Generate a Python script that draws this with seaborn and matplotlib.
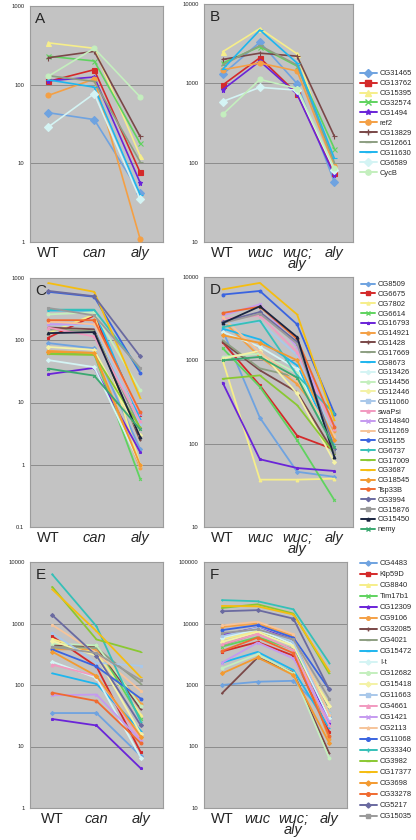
import numpy as np
import matplotlib
matplotlib.use("Agg")
import matplotlib.pyplot as plt
from matplotlib.lines import Line2D
from matplotlib.ticker import FixedLocator, NullLocator
import seaborn as sns

# ------------------------------------------------------------
# data (log scale)
# ------------------------------------------------------------
cats_3 = ["WT", "can", "aly"]
cats_4 = ["WT", "wuc", "wuc;\naly", "aly"]

genes_ab = ["CG31465", "CG13762", "CG15395", "CG32574", "CG1494", "ref2",
            "CG13829", "CG12661", "CG11630", "CG6589", "CycB"]
# panel A: WT, can, aly
vals_a = [[44, 36, 4.2], [110, 155, 7.7], [340, 290, 12.5], [230, 200, 18],
          [112, 125, 5.7], [73, 118, 1.1], [220, 265, 22], [130, 110, 10.5],
          [115, 93, 4.0], [29, 77, 3.5], [128, 290, 70]]
# panel B: WT, wuc, wuc;aly, aly
vals_b = [[1300, 3300, 990, 57], [950, 2100, 740, 74], [2500, 4900, 2350, 93],
          [1800, 2900, 1650, 150], [830, 1900, 730, 69], [1480, 1800, 1430, 90],
          [2000, 2400, 2200, 215], [1700, 3000, 1700, 100], [1500, 4700, 1800, 113],
          [590, 890, 820, 80], [405, 1120, 860, 85]]

genes_cd = ["CG8509", "CG6675", "CG7802", "CG6614", "CG16793", "CG14921",
            "CG1428", "CG17669", "CG8673", "CG13426", "CG14456", "CG12446",
            "CG11060", "swaPsi", "CG14840", "CG11269", "CG5155", "CG6737",
            "CG17009", "CG3687", "CG18545", "Tsp33B", "CG3994", "CG15876",
            "CG15450", "nemy"]
# panel C: WT, can, aly
vals_c = [[90, 74, 1.8], [110, 250, 6.2], [130, 260, 1.0], [62, 60, 0.6],
          [28.5, 36, 1.6], [68, 62, 0.9], [160, 150, 2.5], [150, 140, 4.0],
          [300, 300, 5.5], [48, 37, 1.0], [260, 280, 16], [78, 70, 3.0],
          [180, 170, 4.5], [160, 115, 5.0], [180, 185, 6.5], [200, 180, 7.0],
          [600, 500, 30], [310, 310, 34], [60, 58, 4.0], [830, 600, 12],
          [65, 63, 1.0], [210, 210, 7.0], [620, 510, 55], [330, 250, 36],
          [130, 135, 2.8], [35, 27, 3.7]]
# panel D: WT, wuc, wuc;aly, aly
vals_d = [[2300, 205, 46, 40], [1650, 500, 125, 85], [1000, 37, 37, 38],
          [1400, 480, 110, 21], [540, 65, 51, 47], [3000, 1100, 520, 140],
          [1660, 760, 415, 76], [1740, 800, 630, 87], [2400, 1780, 870, 95],
          [2190, 1450, 790, 83], [1100, 1200, 700, 90], [1050, 1300, 400, 60],
          [2750, 2880, 1150, 120], [3150, 3450, 1250, 150], [3450, 4700, 1450, 165],
          [3300, 1250, 575, 125], [6150, 6800, 2700, 230], [2500, 3000, 660, 230],
          [600, 660, 290, 76], [7100, 8500, 3550, 190], [2000, 1620, 1000, 110],
          [3700, 4400, 1800, 160], [2900, 3800, 1660, 87], [2800, 3630, 1580, 79],
          [2800, 4450, 1900, 69], [1000, 1100, 620, 90]]

genes_ef = ["CG4483", "Klp59D", "CG8840", "Tim17b1", "CG12309", "CG9106",
            "CG32085", "CG4021", "CG15472", "I-t", "CG12682", "CG15418",
            "CG11663", "CG4661", "CG1421", "CG2113", "CG11068", "CG33340",
            "CG3982", "CG17377", "CG3698", "CG33278", "CG5217", "CG15035"]
# panel E: WT, can, aly
vals_e = [[35, 35, 7], [620, 200, 8], [560, 330, 33], [380, 440, 28],
          [28, 22, 4.4], [380, 380, 50], [450, 420, 40], [420, 400, 105],
          [155, 104, 18], [240, 130, 6.6], [470, 440, 45], [520, 300, 16],
          [700, 230, 205], [215, 140, 13], [68, 70, 12.5], [950, 330, 80],
          [380, 200, 60], [6300, 900, 25], [3950, 550, 345], [3600, 750, 133],
          [350, 140, 14.5], [75, 55, 11.3], [1370, 300, 22], [420, 330, 120]]
# panel F: WT, wuc, wuc;aly, aly
vals_f = [[1000, 1130, 1170, 300], [3500, 5000, 3000, 175], [5500, 7500, 4500, 480],
          [4200, 6000, 3800, 350], [6500, 8500, 5500, 240], [8800, 10000, 6300, 130],
          [730, 2800, 1600, 78], [4400, 7000, 4800, 420], [2300, 3450, 1750, 200],
          [5900, 8000, 4600, 290], [1870, 3150, 1550, 65], [5000, 7200, 4300, 450],
          [6200, 8500, 5000, 350], [4560, 6800, 3700, 220], [2300, 4900, 2700, 260],
          [9300, 10700, 6700, 330], [7800, 9400, 5900, 850], [24000, 23000, 17000, 2300],
          [17900, 20500, 14500, 1540], [19300, 19000, 14000, 1700], [1540, 2800, 1450, 115],
          [3560, 5900, 3300, 150], [15800, 16500, 12000, 850], [7000, 8000, 5500, 600]]

# excel-like series colours, shared by index between panels
colors = ["#6fa3e0", "#d42a2a", "#f6ee8a", "#5fd35f", "#6a24d8", "#f4a045",
          "#7a4848", "#8d9f82", "#1eb6ee", "#d4f4f4", "#c4efbe", "#f4f2a6",
          "#a9c8ea", "#f29ac0", "#c59af0", "#f6c49a", "#3a64e0", "#35c0b8",
          "#8ac832", "#f5bd10", "#f39a30", "#f06a30", "#6a6aa0", "#9a9a9a",
          "#1a2540", "#3aa870"]
marker_cycle = ["D", "s", "^", "x", "*", "o", "+", "_", "_", "D", "o"]

# ------------------------------------------------------------
# figure
# ------------------------------------------------------------
sns.set_style("white")
plt.rcParams["font.family"] = ["Liberation Sans", "DejaVu Sans"]

fig = plt.figure(figsize=(4.16, 8.4), dpi=100)
W, H = 416, 840


def px_axes(left, top, right, bottom):
    return fig.add_axes([left / W, 1 - bottom / H, (right - left) / W, (bottom - top) / H])


def draw_panel(ax, cats, vals, ylo, yhi, letter, xlim, lw, ms):
    x = np.arange(len(cats))
    for i, v in enumerate(vals):
        c = colors[i % len(colors)]
        m = marker_cycle[i % len(marker_cycle)]
        sns.lineplot(x=x, y=v, color=c, marker=m, lw=lw, ms=ms,
                     mec=c, mfc=c, mew=0.8, ax=ax, zorder=3)
    ax.set_yscale("log")
    ax.set_ylim(ylo, yhi)
    ax.set_xlim(*xlim)
    ax.set_facecolor("#c3c3c3")
    decades = [10.0 ** k for k in range(int(np.log10(ylo)), int(np.log10(yhi)) + 1)]
    ax.yaxis.set_major_locator(FixedLocator(decades))
    ax.yaxis.set_minor_locator(NullLocator())
    ax.set_yticklabels([("%g" % d) for d in decades], fontsize=4.2)
    ax.tick_params(axis="y", length=0, pad=4)
    ax.yaxis.grid(True, color="#8c8c8c", lw=0.7)
    ax.xaxis.grid(False)
    ax.set_xticks(x)
    labels = ax.set_xticklabels(cats, fontsize=10.5, linespacing=0.72,
                                va="top")
    for t, name in zip(labels, cats):
        if name != "WT":
            t.set_fontstyle("italic")
    ax.set_xticks(np.arange(len(cats) - 1) + 0.5, minor=True)
    ax.tick_params(axis="x", which="major", length=0, pad=3)
    ax.tick_params(axis="x", which="minor", direction="in", length=3,
                   color="#8c8c8c", width=0.6)
    for s in ax.spines.values():
        s.set_color("#9c9c9c")
        s.set_linewidth(0.8)
    ax.set_xlabel("")
    ax.set_ylabel("")
    ax.text(0.04, 0.975, letter, transform=ax.transAxes, fontsize=11,
            va="top", ha="left", zorder=5)


def add_legend(genes, x_px, top_px, spacing, hlen, ms):
    handles = []
    for i, g in enumerate(genes):
        c = colors[i % len(colors)]
        m = marker_cycle[i % len(marker_cycle)]
        handles.append(Line2D([], [], color=c, marker=m, lw=1.4, ms=ms,
                              mec=c, mfc=c))
    fig.legend(handles, genes, loc="upper left",
               bbox_to_anchor=(x_px / W, 1 - top_px / H),
               frameon=False, fontsize=5.4, handlelength=hlen,
               handletextpad=0.45, labelspacing=spacing, borderpad=0,
               borderaxespad=0)


ax_a = px_axes(30, 6, 163, 242)
draw_panel(ax_a, cats_3, vals_a, 1, 1000, "A", (-0.4, 2.5), 1.2, 3.6)
ax_b = px_axes(204, 4, 353, 242)
draw_panel(ax_b, cats_4, vals_b, 10, 10000, "B", (-0.5, 3.5), 1.2, 3.6)
add_legend(genes_ab, 360, 70, 0.36, 2.2, 3.8)

ax_c = px_axes(30, 278, 163, 527)
draw_panel(ax_c, cats_3, vals_c, 0.1, 1000, "C", (-0.4, 2.5), 1.3, 2.0)
ax_d = px_axes(204, 277, 353, 527)
draw_panel(ax_d, cats_4, vals_d, 10, 10000, "D", (-0.5, 3.5), 1.3, 2.0)
add_legend(genes_cd, 361, 281, 0.34, 1.8, 2.2)

ax_e = px_axes(30, 562, 163, 808)
draw_panel(ax_e, cats_3, vals_e, 1, 10000, "E", (-0.5, 2.5), 1.3, 2.0)
ax_f = px_axes(204, 562, 347, 808)
draw_panel(ax_f, cats_4, vals_f, 10, 100000, "F", (-0.5, 3.5), 1.3, 2.0)
add_legend(genes_ef, 360, 560, 0.5, 2.2, 2.6)

fig.savefig("out.png", dpi=100, facecolor="white")
